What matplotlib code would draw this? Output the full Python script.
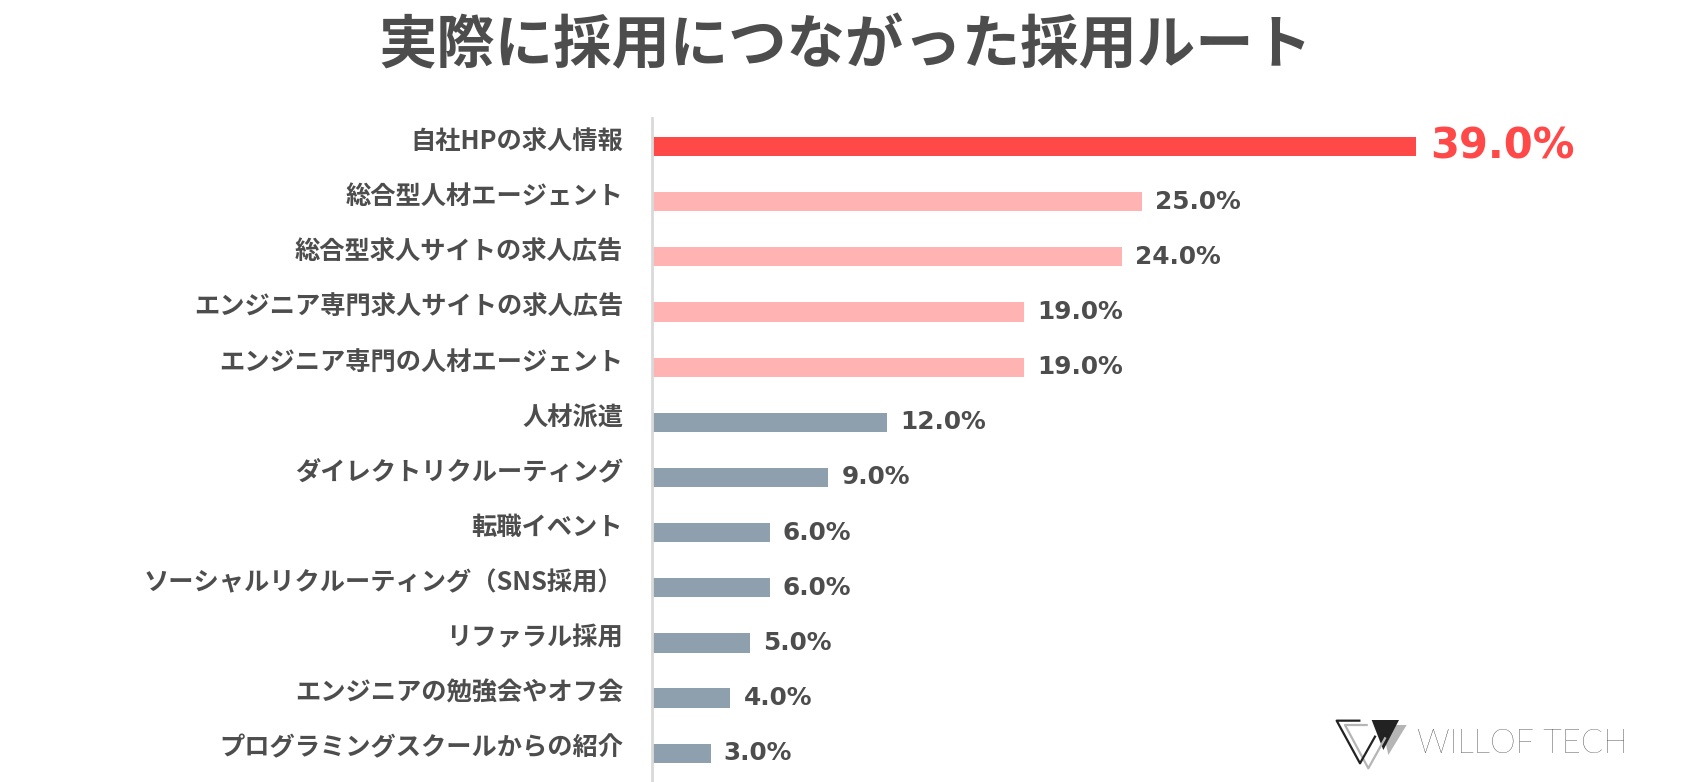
import matplotlib
matplotlib.use("Agg")
import matplotlib.pyplot as plt
from matplotlib.patches import Polygon
from matplotlib.lines import Line2D

plt.rcParams['font.family'] = ['Noto Sans CJK JP', 'DejaVu Sans']

title = "実際に採用につながった採用ルート"
categories = [
    "自社HPの求人情報",
    "総合型人材エージェント",
    "総合型求人サイトの求人広告",
    "エンジニア専門求人サイトの求人広告",
    "エンジニア専門の人材エージェント",
    "人材派遣",
    "ダイレクトリクルーティング",
    "転職イベント",
    "ソーシャルリクルーティング（SNS採用）",
    "リファラル採用",
    "エンジニアの勉強会やオフ会",
    "プログラミングスクールからの紹介",
]
values = [39.0, 25.0, 24.0, 19.0, 19.0, 12.0, 9.0, 6.0, 6.0, 5.0, 4.0, 3.0]
groups = ["top", "mid", "mid", "mid", "mid", "low", "low", "low", "low", "low", "low", "low"]
brand = "WILLOF TECH"

W, H = 1690, 782
fig = plt.figure(figsize=(W / 100, H / 100), dpi=100)
fig.patch.set_facecolor("white")

colors = {"top": "#FF4949", "mid": "#FFB3B3", "low": "#8EA0AE"}
text_col = "#4D4D4D"

ax_left = 652 / W
ax_w = 980 / W
ax = fig.add_axes([ax_left, 0.0, ax_w, 1 - 118 / H])
ax.set_xlim(0, 50)
ax.set_ylim(11.52, -0.517)

ypos = list(range(len(categories)))
ax.barh(ypos, values, height=0.35, color=[colors[g] for g in groups], zorder=2)

for s in ["top", "right", "bottom"]:
    ax.spines[s].set_visible(False)
ax.spines["left"].set_color("#D9D9D9")
ax.spines["left"].set_linewidth(2)
ax.set_xticks([])
ax.set_yticks(ypos)
ax.set_yticklabels([])
ax.tick_params(axis="y", length=0)

for y, c in zip(ypos, categories):
    ax.annotate(c, (0, y), xytext=(-29, 5), textcoords="offset pixels",
                ha="right", va="center", fontsize=18.2, fontweight="bold",
                color=text_col, annotation_clip=False)

for y, v, g in zip(ypos, values, groups):
    if g == "top":
        ax.annotate(f"{v:.1f}%", (v, y), xytext=(14, 0), textcoords="offset pixels",
                    ha="left", va="center", fontsize=30, fontweight="bold",
                    color="#FF4949", family="DejaVu Sans")
    else:
        ax.annotate(f"{v:.1f}%", (v, y), xytext=(13, 0), textcoords="offset pixels",
                    ha="left", va="center", fontsize=17.8, fontweight="bold",
                    color=text_col, family="DejaVu Sans")

fig.text(0.5, 1 - 46 / H, title, ha="center", va="center", fontsize=42,
         fontweight="bold", color=text_col)

# logo
def P(x, y):
    return ((1320 + x / 3) / W, 1 - (700 + y / 3) / H)

fig.patches.append(Polygon([P(185, 75), P(260, 75), P(205, 165)], closed=True,
                           transform=fig.transFigure, facecolor="#B5B5B5", edgecolor="none"))
fig.lines.append(Line2D(*zip(P(140, 75), P(75, 75), P(145, 205), P(195, 115)),
                        transform=fig.transFigure, color="#B5B5B5", lw=1.6))
fig.lines.append(Line2D(*zip(P(118, 62), P(50, 62), P(120, 190), P(165, 110)),
                        transform=fig.transFigure, color="#222222", lw=1.6))
fig.patches.append(Polygon([P(155, 60), P(237, 60), P(190, 150)], closed=True,
                           transform=fig.transFigure, facecolor="#222222", edgecolor="none"))
fig.text(1417 / W, 1 - 744 / H, brand, ha="left", va="center", fontsize=23.5,
         fontweight="light", color="#222222", family="Lato")

fig.savefig("out.png", dpi=100, facecolor="white")
